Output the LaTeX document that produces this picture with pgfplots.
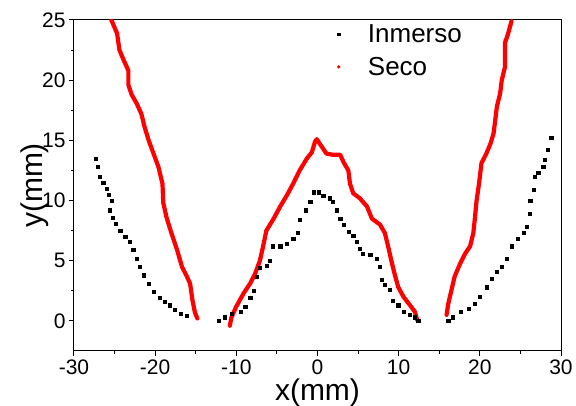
\documentclass[border=0pt]{standalone}
\usepackage{fontspec}
\setmainfont{Liberation Sans}
\usepackage{pgfplots}
\pgfplotsset{compat=1.18}
\begin{document}
\begin{tikzpicture}
\path[use as bounding box] (0,0) rectangle (576pt,406pt);
\begin{axis}[
  at={(74pt,55pt)}, anchor=south west,
  width=487pt, height=331pt, scale only axis,
  xmin=-30, xmax=30, ymin=-2.5, ymax=25,
  xtick={-30,-20,...,30}, ytick={0,5,...,25},
  minor x tick num=1, minor y tick num=1,
  tick align=outside, tick pos=left,
  major tick length=5pt, minor tick length=3pt,
  every tick/.style={black, line width=1pt},
  axis line style={line width=1pt},
  /pgf/number format/assume math mode=true,
  ticklabel style={font=\fontsize{21}{21}\selectfont},
  xlabel={x(mm)}, ylabel={y(mm)},
  label style={font=\fontsize{30}{30}\selectfont, inner sep=0pt},
  xlabel style={at={(axis description cs:0.5,-0.151)}, anchor=base},
  ylabel style={at={(axis description cs:-0.0657,0.5)}, anchor=base},
  legend style={draw=none, fill=none, at={(axis description cs:0.535,0.992)}, anchor=north west,
    font=\fontsize{26}{26}\selectfont, row sep=9pt, inner sep=0pt, outer sep=0pt,
    nodes={inner sep=2pt}},
  legend cell align=left,
  legend image code/.code={\path (0pt,0pt) (31pt,0pt); \draw[#1] plot coordinates {(4pt,0pt)};},
  seco/.style={red, line width=4.2pt, line cap=round, line join=round, forget plot},
  inm/.style={black, only marks, mark=square*, mark size=1.6pt, forget plot},
]
% ---- Seco (red) ----
\addplot[seco] coordinates {
(-25.4,25.0) (-24.7,23.9) (-24.4,22.5) (-23.9,21.7) (-23.3,20.8) (-23.3,19.6)
(-22.9,18.8) (-22.3,18.1) (-21.7,17.2) (-21.3,16.1) (-20.8,15.0) (-20.2,13.9)
(-19.6,12.8) (-19.1,11.4) (-19.0,9.8) (-18.6,8.6) (-18.0,7.3) (-17.3,5.9)
(-16.7,4.5) (-16.1,3.7) (-15.7,3.1) (-15.4,1.7) (-15.1,0.7) (-14.8,0.2)
};
\addplot[seco] coordinates {
(-10.8,-0.4) (-10.6,0.3) (-10.0,1.2) (-9.1,2.3) (-8.3,3.1) (-7.7,3.9) (-7.1,5.0)
(-6.7,6.2) (-6.3,7.5) (-5.4,8.5) (-4.6,9.5) (-3.8,10.4) (-3.0,11.4) (-2.2,12.5)
(-1.3,13.5) (-0.7,14.0) (-0.3,14.9) (-0.1,15.1) (0.5,14.5) (1.1,13.9) (1.9,13.8)
(2.8,13.8) (3.2,13.2) (3.8,12.5) (4.0,11.4) (4.4,10.6) (5.2,10.2) (6.1,9.5)
(6.7,8.5) (7.7,8.0) (8.3,7.3) (8.7,6.2) (9.1,5.0) (9.5,3.9) (9.95,2.8)
(10.6,2.0) (11.4,1.3) (12.0,0.75) (12.3,0.05)
};
\addplot[seco] coordinates {
(15.9,0.5) (16.1,1.4) (16.5,2.55) (16.9,3.7) (17.6,4.8) (18.2,5.6) (18.8,6.2)
(19.2,7.3) (19.4,8.6) (19.6,10.0) (19.9,11.4) (20.2,13.1) (20.8,13.9) (21.3,14.7)
(21.7,15.6) (21.9,16.7) (22.1,17.8) (22.5,18.9) (22.7,20.0) (23.1,21.1) (23.1,23.1)
(23.5,23.9) (23.9,24.9)
};
% ---- Inmerso (black) ----
\addplot[inm] coordinates {
(-27.3,13.5) (-27.1,12.8) (-26.8,12.0) (-26.4,11.5) (-26.0,11.0) (-25.7,10.5)
(-25.4,10.0) (-25.6,9.2) (-25.2,8.6) (-24.9,8.1) (-24.3,7.5) (-23.7,7.0)
(-23.1,6.6) (-22.7,5.9) (-22.3,5.2) (-21.9,4.5) (-21.4,3.8) (-20.8,3.1)
(-20.2,2.4) (-19.4,1.9) (-18.8,1.6) (-18.2,1.3) (-17.6,0.9) (-16.9,0.6) (-16.1,0.4)
};
\addplot[inm] coordinates {
(-12.2,0.0) (-11.4,0.3) (-10.6,0.6) (-9.5,0.75) (-8.9,1.2) (-8.3,1.9) (-7.9,2.5)
(-7.5,3.7) (-7.1,4.4) (-6.3,4.6) (-5.9,5.0) (-5.5,6.2) (-4.6,6.2) (-3.8,6.4)
(-3.0,6.8) (-2.4,7.3) (-2.2,8.4) (-1.5,9.2) (-0.9,9.9) (-0.5,10.7) (0.1,10.7)
(0.7,10.4) (1.5,10.2) (1.9,9.9) (2.4,9.2) (2.8,8.5) (3.2,8.0) (3.8,7.4) (4.4,7.1)
(4.8,6.6) (5.2,6.0) (5.6,5.6) (6.5,5.5) (7.3,5.2) (7.7,4.5) (7.9,3.4) (8.3,3.0)
(8.9,2.6) (9.3,1.7) (9.95,1.3) (10.6,0.75) (11.4,0.5) (12.0,0.3) (12.4,0.05)
};
\addplot[inm] coordinates {
(16.1,0.05) (16.7,0.3) (17.6,0.75) (18.6,1.0) (19.4,1.4) (20.0,2.0) (20.8,2.8)
(21.5,3.5) (22.1,4.1) (22.7,4.5) (23.3,5.2) (23.9,6.2) (24.7,6.8) (25.4,7.3)
(25.8,7.8) (26.1,8.9) (26.2,10.0) (26.6,10.9) (26.8,12.0) (27.2,12.3) (27.8,12.8)
(28.0,13.4) (28.4,14.2) (28.8,15.2)
};
\addlegendimage{black, only marks, mark=square*, mark size=1.3pt}
\addlegendentry{Inmerso}
\addlegendimage{red, only marks, mark=*, mark size=1.5pt}
\addlegendentry{Seco}
\end{axis}
\end{tikzpicture}
\end{document}
